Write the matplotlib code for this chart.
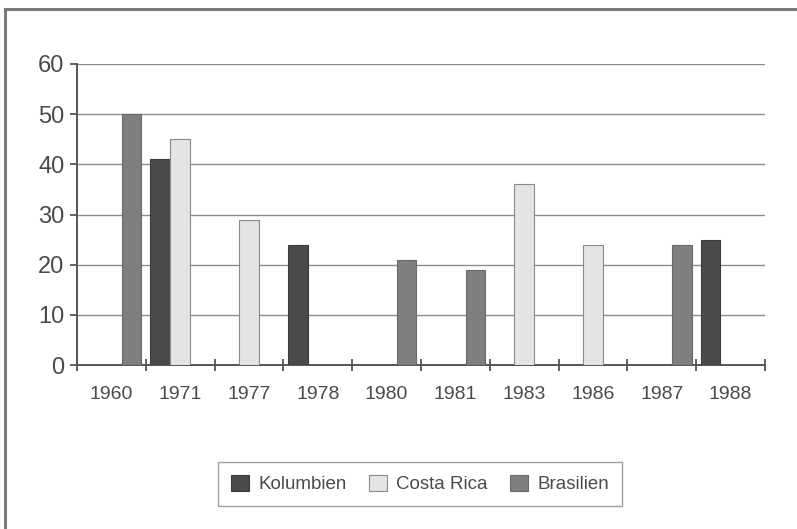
import numpy as np
import matplotlib
matplotlib.use("Agg")
import matplotlib.pyplot as plt
from matplotlib.lines import Line2D

plt.rcParams['font.family'] = ['Liberation Sans', 'DejaVu Sans']

# data
years = ['1960', '1971', '1977', '1978', '1980', '1981', '1983', '1986', '1987', '1988']
kolumbien = [np.nan, 41, np.nan, 24, np.nan, np.nan, np.nan, np.nan, np.nan, 25]
costa_rica = [np.nan, 45, 29, np.nan, np.nan, np.nan, 36, 24, np.nan, np.nan]
brasilien = [50, np.nan, np.nan, np.nan, 21, 19, np.nan, np.nan, 24, np.nan]

series = [
    ('Kolumbien', kolumbien, '#4a4a4a', '#3a3a3a'),
    ('Costa Rica', costa_rica, '#e4e4e4', '#8a8a8a'),
    ('Brasilien', brasilien, '#7f7f7f', '#6a6a6a'),
]

fig = plt.figure(figsize=(7.97, 5.29), dpi=100)
ax = fig.add_axes([77 / 797, 1 - 365 / 529, 688 / 797, 301 / 529])

x = np.arange(len(years))
w = 0.285
offsets = [-0.29, 0.0, 0.29]
for (name, vals, fc, ec), off in zip(series, offsets):
    ax.bar(x + off, vals, width=w, color=fc, edgecolor=ec, linewidth=0.8,
           label=name, zorder=3)

ax.set_xlim(-0.5, len(years) - 0.5)
ax.set_ylim(0, 60)
ax.set_yticks(range(0, 61, 10))

# ticks on category borders, labels in the middle
ax.set_xticks(np.arange(len(years) + 1) - 0.5)
ax.set_xticklabels([])
ax.set_xticks(x, minor=True)
ax.set_xticklabels(years, minor=True)
ax.tick_params(axis='x', which='major', direction='inout', length=9, width=1.3, color='#555555')
ax.tick_params(axis='x', which='minor', length=0, pad=15, labelsize=14, labelcolor='#4a4a4a')
ax.tick_params(axis='y', direction='out', length=5, width=1.3, color='#555555',
               pad=4, labelsize=17, labelcolor='#4a4a4a')

ax.yaxis.grid(True, color='#8c8c8c', linewidth=1.0, zorder=0)
ax.set_axisbelow(True)
for side in ['top', 'right']:
    ax.spines[side].set_visible(False)
for side in ['left', 'bottom']:
    ax.spines[side].set_color('#555555')
    ax.spines[side].set_linewidth(1.4)

leg = fig.legend(loc='center', bbox_to_anchor=(420 / 797, 1 - 484 / 529), ncol=3,
                 fontsize=13.5, frameon=True, fancybox=False, edgecolor='#8a8a8a',
                 handlelength=0.95, handleheight=0.95, handletextpad=0.5,
                 columnspacing=1.2, borderpad=0.7, labelcolor='#4a4a4a')
leg.get_frame().set_linewidth(1.0)

# outer frame (only top and left visible in the scan)
fig.add_artist(Line2D([5 / 797, 5 / 797], [0, 1 - 9 / 529], transform=fig.transFigure,
                      color='#7a7a7a', linewidth=2.2))
fig.add_artist(Line2D([5 / 797, 1], [1 - 9 / 529, 1 - 9 / 529], transform=fig.transFigure,
                      color='#7a7a7a', linewidth=2.2))

fig.savefig('out.png', dpi=100)
